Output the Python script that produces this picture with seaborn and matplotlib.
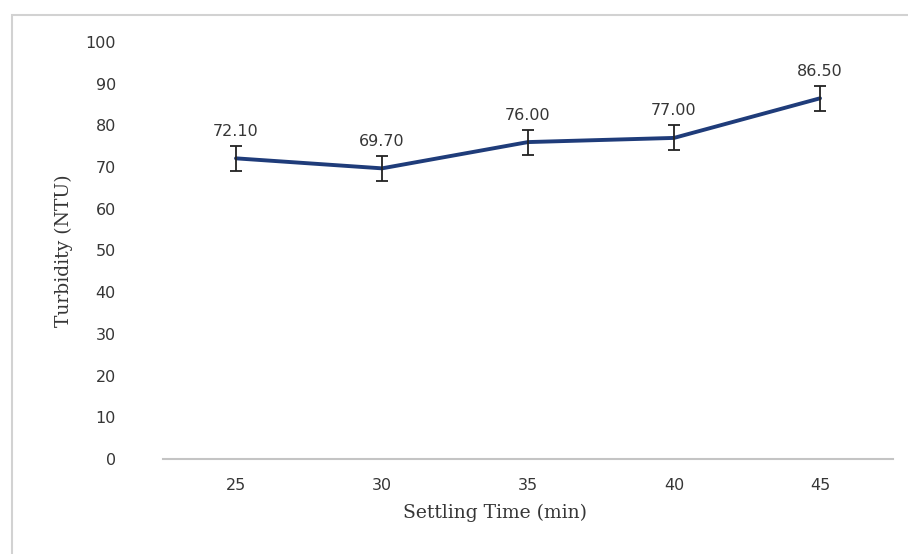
import matplotlib
matplotlib.use("Agg")
import matplotlib.pyplot as plt
import matplotlib.patches as mpatches
import numpy as np
import pandas as pd
import seaborn as sns

# Turbidity after each settling time
settling_time = [25, 30, 35, 40, 45]
turbidity = [72.10, 69.70, 76.00, 77.00, 86.50]
turbidity_err = [3.0, 3.0, 3.0, 3.0, 3.0]
y_ticks = [0, 10, 20, 30, 40, 50, 60, 70, 80, 90, 100]

df = pd.DataFrame({"time": settling_time, "ntu": turbidity, "err": turbidity_err})

sns.set_theme(style="white")
plt.rcParams["font.family"] = ["DejaVu Sans"]

W, H = 908, 554
fig = plt.figure(figsize=(W / 100, H / 100), dpi=100)
ax = fig.add_axes([163 / W, 1 - 459 / H, (893 - 163) / W, (459 - 42) / H])

text_color = "#363636"
line_color = "#1f3c7a"
sns.lineplot(data=df, x="time", y="ntu", ax=ax, color=line_color,
             linewidth=2.8, marker=None, zorder=3)
ax.errorbar(df["time"], df["ntu"], yerr=df["err"], fmt="none",
            ecolor="#222222", elinewidth=1.3, capsize=4, capthick=1.3, zorder=4)

for t, v, e in zip(settling_time, turbidity, turbidity_err):
    ax.annotate(f"{v:.2f}", xy=(t, v + e), xytext=(0, 5), textcoords="offset points",
                ha="center", va="bottom", fontsize=11.5, color=text_color)

ax.set_xlim(22.5, 47.5)
ax.set_ylim(0, 100)
ax.set_xticks(settling_time)
ax.set_xticklabels([str(t) for t in settling_time])
ax.set_yticks(y_ticks)
ax.set_yticklabels([str(v) for v in y_ticks])
ax.tick_params(axis="x", length=0, pad=14, labelsize=11.5, labelcolor=text_color)
ax.tick_params(axis="y", length=0, pad=34, labelsize=11.5, labelcolor=text_color)

for side in ["top", "right", "left"]:
    ax.spines[side].set_visible(False)
ax.spines["bottom"].set_color("#c4c4c4")
ax.spines["bottom"].set_linewidth(1.5)
ax.grid(False)

ax.set_xlabel("Settling Time (min)", family="DejaVu Serif", fontsize=13.5,
              color=text_color)
ax.xaxis.set_label_coords(0.455, -0.108)
ax.set_ylabel("Turbidity (NTU)", family="DejaVu Serif", fontsize=13.5,
              color=text_color, labelpad=9)

# chart frame
fig.patches.append(mpatches.Rectangle((12 / W, -0.05), 1.2, 1 - 15 / H + 0.05,
                                      transform=fig.transFigure, fill=False,
                                      edgecolor="#d2d2d2", linewidth=1.5))

fig.savefig("out.png", dpi=100)
